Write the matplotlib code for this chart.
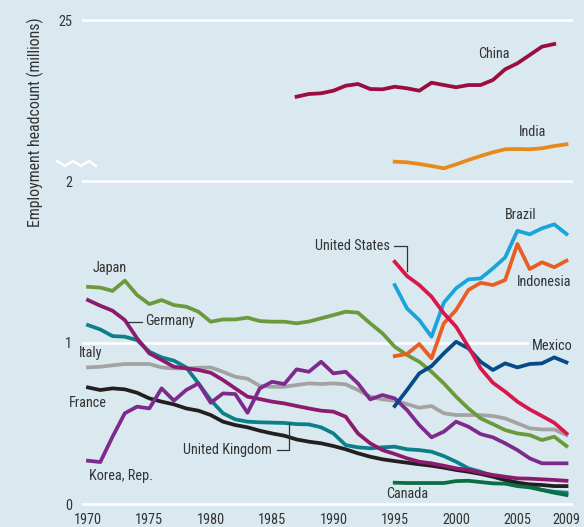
import matplotlib
matplotlib.use("Agg")
import matplotlib.pyplot as plt
from matplotlib import font_manager as fm
from matplotlib.lines import Line2D

# ---------------- data ----------------
years_long = list(range(1970, 2010))
years_short = list(range(1995, 2010))
years_china = list(range(1987, 2009))

japan = [1.345, 1.34, 1.32, 1.383, 1.294, 1.238, 1.263, 1.232, 1.222, 1.191,
         1.129, 1.143, 1.143, 1.154, 1.133, 1.129, 1.129, 1.119, 1.13, 1.15,
         1.170, 1.191, 1.185, 1.119, 1.057, 0.974, 0.923, 0.881, 0.819, 0.747,
         0.665, 0.592, 0.530, 0.495, 0.458, 0.437, 0.427, 0.396, 0.417, 0.359]
germany = [1.263, 1.228, 1.197, 1.139, 1.026, 0.933, 0.892, 0.850, 0.840, 0.830,
           0.813, 0.768, 0.716, 0.665, 0.650, 0.634, 0.623, 0.607, 0.592, 0.578,
           0.572, 0.541, 0.437, 0.376, 0.334, 0.310, 0.283, 0.262, 0.252, 0.237,
           0.221, 0.211, 0.194, 0.180, 0.169, 0.159, 0.157, 0.153, 0.149, 0.144]
uk = [1.108, 1.081, 1.040, 1.036, 1.015, 0.943, 0.908, 0.888, 0.846, 0.747,
      0.644, 0.562, 0.524, 0.510, 0.506, 0.504, 0.502, 0.495, 0.493, 0.475,
      0.437, 0.365, 0.351, 0.345, 0.351, 0.355, 0.339, 0.334, 0.324, 0.297,
      0.262, 0.221, 0.200, 0.173, 0.149, 0.132, 0.111, 0.087, 0.076, 0.070]
italy = [0.846, 0.850, 0.859, 0.867, 0.867, 0.867, 0.846, 0.840, 0.840, 0.844,
         0.846, 0.819, 0.788, 0.776, 0.731, 0.726, 0.726, 0.737, 0.747, 0.743,
         0.747, 0.741, 0.706, 0.665, 0.648, 0.640, 0.619, 0.596, 0.607, 0.562,
         0.551, 0.551, 0.551, 0.545, 0.530, 0.500, 0.469, 0.462, 0.462, 0.427]
france = [0.722, 0.706, 0.716, 0.710, 0.689, 0.654, 0.634, 0.617, 0.592, 0.578,
          0.551, 0.510, 0.489, 0.475, 0.454, 0.437, 0.423, 0.400, 0.386, 0.376,
          0.359, 0.339, 0.314, 0.293, 0.277, 0.266, 0.256, 0.246, 0.237, 0.225,
          0.211, 0.200, 0.186, 0.169, 0.149, 0.132, 0.122, 0.118, 0.111, 0.111]
korea = [0.268, 0.260, 0.417, 0.562, 0.603, 0.592, 0.716, 0.640, 0.706, 0.747,
         0.627, 0.685, 0.681, 0.565, 0.716, 0.757, 0.743, 0.834, 0.819, 0.881,
         0.809, 0.819, 0.747, 0.648, 0.675, 0.654, 0.582, 0.489, 0.413, 0.448,
         0.510, 0.479, 0.433, 0.413, 0.376, 0.334, 0.283, 0.252, 0.252, 0.252]

united_states = [1.500, 1.412, 1.356, 1.284, 1.181, 1.098, 0.974, 0.840, 0.751, 0.696,
                 0.634, 0.586, 0.545, 0.503, 0.437]
brazil = [1.356, 1.211, 1.139, 1.036, 1.247, 1.336, 1.391, 1.397, 1.459, 1.527,
          1.692, 1.670, 1.707, 1.732, 1.672]
indonesia = [0.916, 0.929, 0.991, 0.902, 1.119, 1.201, 1.325, 1.370, 1.356, 1.387,
             1.610, 1.455, 1.497, 1.466, 1.507]
mexico = [0.607, 0.706, 0.809, 0.854, 0.933, 1.005, 0.964, 0.881, 0.830, 0.871,
          0.846, 0.867, 0.871, 0.908, 0.877]
canada = [0.132, 0.130, 0.130, 0.130, 0.130, 0.142, 0.144, 0.136, 0.128, 0.126,
          0.111, 0.103, 0.087, 0.070, 0.056]

china = [14.04, 14.43, 14.53, 14.90, 15.61, 15.86, 15.14, 15.10, 15.47, 15.24,
         14.90, 16.04, 15.71, 15.39, 15.71, 15.71, 16.43, 17.96, 18.81, 20.0,
         21.19, 21.57]
india = [4.76, 4.67, 4.43, 4.14, 3.81, 4.38, 5.0, 5.57, 6.1, 6.53,
         6.57, 6.53, 6.67, 7.0, 7.24]

xtick_years = [1970, 1975, 1980, 1985, 1990, 1995, 2000, 2005, 2009]
lower_ticks = [0, 1, 2]
upper_ticks = [25]

# ---------------- font choice (prefer a condensed sans) ----------------
def pick_font():
    pref = ["Liberation Sans Narrow", "Roboto Condensed", "Open Sans Condensed",
            "Noto Sans", "DejaVu Sans", "Open Sans", "Roboto", "Lato", "Inter"]
    cands = []
    for f in fm.fontManager.ttflist:
        if f.style != "normal":
            continue
        w = f.weight
        if w not in (400, "normal", "regular", "book", "Regular"):
            continue
        cond = ("Narrow" in f.name or "Condensed" in f.name
                or str(f.stretch) in ("condensed", "semi-condensed", "extra-condensed",
                                      "ultra-condensed", "75", "87", "62", "50"))
        if cond:
            rank = next((i for i, p in enumerate(pref) if f.name.startswith(p)), 99)
            semi = 1 if "semi" in str(f.stretch).lower() or "Semi" in f.fname else 0
            cands.append((rank, semi, f.fname))
    if cands:
        cands.sort()
        return fm.FontProperties(fname=cands[0][2])
    return fm.FontProperties(family="Liberation Sans")

FP = pick_font()

# ---------------- style ----------------
W, H = 584, 527
BG = "#d9e9ef"
TXT = "#333333"
LW = 2.7

fig = plt.figure(figsize=(W / 100, H / 100), dpi=100, facecolor=BG)
renderer = fig.canvas.get_renderer()

def fit_size(s, target_px, base=10.0):
    t = fig.text(0, 0, s, fontproperties=FP, fontsize=base)
    w = t.get_window_extent(renderer).width
    t.remove()
    return base * target_px / w

FS = min(11.5, fit_size("United Kingdom", 89))
FS_Y = min(11.5, fit_size("Employment headcount (millions)", 209))

def fbox(left, top, right, bottom):
    return [left / W, 1 - bottom / H, (right - left) / W, (bottom - top) / H]

ax = fig.add_axes(fbox(82, 172, 573, 510))
axu = fig.add_axes(fbox(82, 10, 573, 172))
for a in (ax, axu):
    a.set_facecolor("none")
    for s in a.spines.values():
        s.set_visible(False)
    a.set_xlim(1969.51, 2009.53)
    a.tick_params(length=0, colors=TXT)

ax.set_ylim(-0.037, 2.056)
axu.set_ylim(25 - 152 / 7, 25 + 10 / 7)

# gridlines
ax.axhline(0, color="white", lw=1.8, zorder=1)
ax.axhline(2, color="white", lw=1.8, zorder=1)
ax.axhline(1, xmin=0, xmax=(527 - 82) / 491, color="white", lw=1.8, zorder=1)
axu.axhline(25, color="white", lw=1.8, zorder=1)

ax.set_yticks(lower_ticks)
ax.set_yticklabels([str(t) for t in lower_ticks])
ax.tick_params(axis="y", pad=7)
axu.set_yticks(upper_ticks)
axu.set_yticklabels([str(t) for t in upper_ticks])
axu.tick_params(axis="y", pad=7)
axu.set_xticks([])
ax.set_xticks(xtick_years)
ax.set_xticklabels([str(y) for y in xtick_years])
ax.tick_params(axis="x", pad=2)
for lbl in ax.get_xticklabels() + ax.get_yticklabels() + axu.get_yticklabels():
    lbl.set_fontproperties(FP)
    lbl.set_fontsize(FS)
    lbl.set_color(TXT)

series_long = [
    (italy, "#a3a3a3"),
    (japan, "#6a9a3c"),
    (uk, "#0b7f8a"),
    (france, "#231f20"),
    (germany, "#8c1b6f"),
    (korea, "#7e2a8c"),
]
for vals, col in series_long:
    ax.plot(years_long, vals, color=col, lw=LW, zorder=3)

series_short = [
    (canada, "#0b6e45"),
    (mexico, "#064a8a"),
    (indonesia, "#e85e24"),
    (brazil, "#1ba3dc"),
    (united_states, "#d8174b"),
]
for vals, col in series_short:
    ax.plot(years_short, vals, color=col, lw=LW, zorder=4)

axu.plot(years_china, china, color="#9c0c3e", lw=LW, zorder=3)
axu.plot(years_short, india, color="#e8891e", lw=LW, zorder=3)

# labels
def lab(a, x, y, s, ha="left"):
    a.text(x, y, s, ha=ha, va="center", fontproperties=FP, fontsize=FS,
           color=TXT, zorder=5)

lab(ax, 1970.41, 1.461, "Japan")
lab(ax, 1974.65, 1.133, "Germany")
ax.plot([1973.18, 1974.4], [1.127, 1.127], color=TXT, lw=0.9, zorder=5)
lab(ax, 1969.27, 0.935, "Italy")
lab(ax, 1968.45, 0.625, "France")
lab(ax, 1977.74, 0.334, "United Kingdom")
ax.plot([1985.4, 1986.38, 1986.38], [0.334, 0.334, 0.50], color=TXT, lw=0.9, zorder=5)
lab(ax, 1970.08, 0.173, "Korea, Rep.")
lab(ax, 1994.61, 1.598, "United States", ha="right")
ax.plot([1994.94, 1996.0, 1996.0], [1.598, 1.598, 1.44], color=TXT, lw=0.9, zorder=5)
lab(ax, 2003.98, 1.789, "Brazil")
lab(ax, 2004.96, 1.375, "Indonesia")
lab(ax, 2006.19, 0.978, "Mexico")
lab(ax, 1994.29, 0.062, "Canada")
lab(axu, 2001.78, 20.14, "China")
lab(axu, 2005.13, 9.0, "India")

fig.text(35 / W, 1 - 122 / H, "Employment headcount (millions)", rotation=90,
         ha="center", va="center", fontproperties=FP, fontsize=FS_Y, color=TXT)

# axis break mark
zx = [57, 65, 73, 81, 89, 96]
zy = [161, 166, 161, 166, 161, 166]
fig.add_artist(Line2D([x / W for x in zx], [1 - y / H for y in zy],
                      transform=fig.transFigure, color="white", lw=1.8))

fig.savefig("out.png", dpi=100, facecolor=BG)
